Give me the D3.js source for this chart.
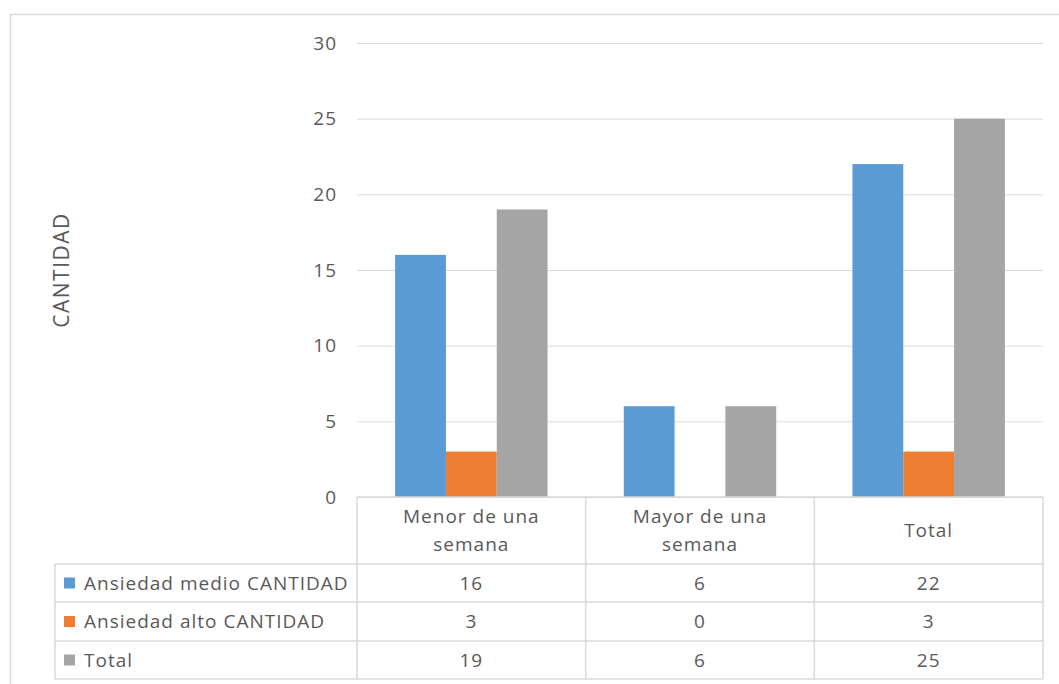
<!DOCTYPE html>
<html>
<head>
<meta charset="utf-8">
<script src="https://cdn.jsdelivr.net/npm/d3@7"></script>
<style>
  html, body { margin: 0; padding: 0; background: #fff; }
  svg { display: block; }
  text { font-family: "Open Sans", "Lato", sans-serif; fill: #595959; letter-spacing: 1px; }
</style>
</head>
<body>
<svg id="chart" width="1059" height="684"></svg>
<script>
// Chart data
const categories = [["Menor de una", "semana"], ["Mayor de una", "semana"], ["Total"]];
const seriesNames = ["Ansiedad medio CANTIDAD", "Ansiedad alto CANTIDAD", "Total"];
const seriesColors = ["#5B9BD5", "#ED7D31", "#A5A5A5"];
const medio = [16, 6, 22];
const alto = [3, 0, 3];
const total = [19, 6, 25];
const yTicks = [0, 5, 10, 15, 20, 25, 30];
const axisTitle = "CANTIDAD";

const values = [medio, alto, total];

const svg = d3.select("#chart");
const W = 1059, H = 684;
const FS = 19;

// Outer chart frame (runs off the right and bottom edges)
svg.append("rect")
  .attr("x", 10.5).attr("y", 14.5)
  .attr("width", W + 20).attr("height", H + 20)
  .attr("fill", "#fff")
  .attr("stroke", "#D9D9D9").attr("stroke-width", 1.5);

const plot = { left: 357, right: 1043, top: 43, bottom: 497 };
const tableLeft = 55;
const rowY = [497, 564, 602, 641, 679];

const y = d3.scaleLinear().domain([0, 30]).range([plot.bottom, plot.top]);
const x0 = d3.scaleBand().domain(d3.range(categories.length))
  .range([plot.left, plot.right]).paddingInner(0).paddingOuter(0);
const x1 = d3.scaleBand().domain(d3.range(seriesNames.length))
  .range([0, x0.bandwidth()]).paddingInner(0).paddingOuter(0.75);

// Gridlines and value axis
const yAxis = d3.axisLeft(y).tickValues(yTicks)
  .tickSize(-(plot.right - plot.left)).tickPadding(20);
const ga = svg.append("g").attr("transform", `translate(${plot.left},0)`).call(yAxis);
ga.select(".domain").remove();
ga.selectAll(".tick line").attr("stroke", "#D9D9D9").attr("stroke-width", 1);
ga.selectAll(".tick text")
  .attr("font-size", FS).attr("fill", "#595959")
  .style("font-family", '"Open Sans", sans-serif');

// Bars
const groups = svg.append("g").selectAll("g")
  .data(categories.map((c, i) => i))
  .join("g")
  .attr("transform", i => `translate(${x0(i)},0)`);
groups.selectAll("rect")
  .data(i => values.map((s, j) => ({ j, v: s[i] })))
  .join("rect")
  .attr("x", d => x1(d.j))
  .attr("width", x1.bandwidth())
  .attr("y", d => y(d.v))
  .attr("height", d => y(0) - y(d.v))
  .attr("fill", d => seriesColors[d.j]);

// Data table under the axis
const tg = svg.append("g");
const lineCol = "#D9D9D9";
tg.append("line").attr("x1", plot.left).attr("x2", plot.right)
  .attr("y1", rowY[0]).attr("y2", rowY[0]).attr("stroke", lineCol).attr("stroke-width", 1.5);
for (let r = 1; r < rowY.length; r++) {
  tg.append("line").attr("x1", tableLeft).attr("x2", plot.right)
    .attr("y1", rowY[r]).attr("y2", rowY[r]).attr("stroke", lineCol).attr("stroke-width", 1.5);
}
tg.append("line").attr("x1", tableLeft).attr("x2", tableLeft)
  .attr("y1", rowY[1]).attr("y2", rowY[4]).attr("stroke", lineCol).attr("stroke-width", 1.5);
const colEdges = d3.range(categories.length).map(i => x0(i)).concat([plot.right]);
colEdges.forEach(cx => {
  tg.append("line").attr("x1", cx).attr("x2", cx)
    .attr("y1", rowY[0]).attr("y2", rowY[4]).attr("stroke", lineCol).attr("stroke-width", 1.5);
});

// Category labels
categories.forEach((lines, i) => {
  const cx = x0(i) + x0.bandwidth() / 2;
  const cy = (rowY[0] + rowY[1]) / 2;
  const lh = 28;
  lines.forEach((t, k) => {
    tg.append("text")
      .attr("x", cx)
      .attr("y", cy + (k - (lines.length - 1) / 2) * lh)
      .attr("dy", "0.35em")
      .attr("text-anchor", "middle")
      .attr("font-size", FS)
      .text(t);
  });
});

// Series rows: legend key, name, values
seriesNames.forEach((name, j) => {
  const cy = (rowY[j + 1] + rowY[j + 2]) / 2;
  tg.append("rect")
    .attr("x", 64).attr("y", cy - 5.5)
    .attr("width", 11).attr("height", 11)
    .attr("fill", seriesColors[j]);
  tg.append("text")
    .attr("x", 84).attr("y", cy).attr("dy", "0.35em")
    .attr("font-size", FS)
    .text(name);
  values[j].forEach((v, i) => {
    tg.append("text")
      .attr("x", x0(i) + x0.bandwidth() / 2).attr("y", cy).attr("dy", "0.35em")
      .attr("text-anchor", "middle")
      .attr("font-size", FS)
      .text(v);
  });
});

// Value axis title
svg.append("text")
  .attr("transform", `translate(62,${(213 + 327) / 2}) rotate(-90)`)
  .attr("text-anchor", "middle")
  .attr("dy", "0.35em")
  .attr("font-size", 21)
  .style("letter-spacing", "1.5px")
  .text(axisTitle);
</script>
</body>
</html>
